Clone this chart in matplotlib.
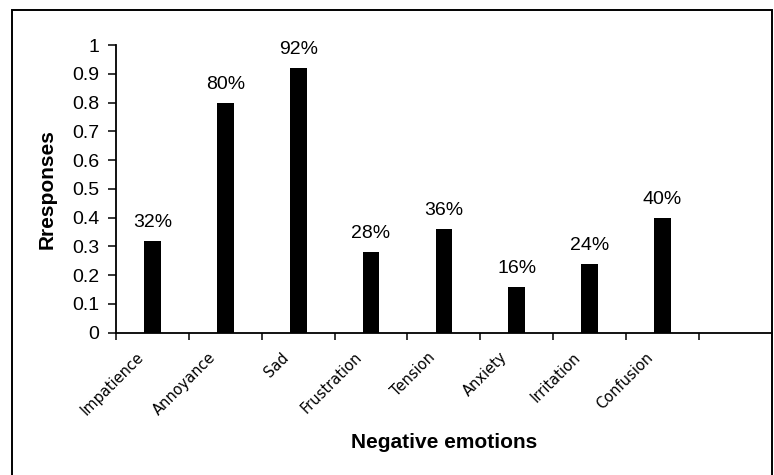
import numpy as np
import matplotlib.pyplot as plt
from matplotlib.patches import Rectangle

# Data
emotions = ['Impatience', 'Annoyance', 'Sad', 'Frustration', 'Tension',
            'Anxiety', 'Irritation', 'Confusion', '']
responses = [0.32, 0.80, 0.92, 0.28, 0.36, 0.16, 0.24, 0.40]
pct_labels = ['32%', '80%', '92%', '28%', '36%', '16%', '24%', '40%']
y_ticks = [0, 0.1, 0.2, 0.3, 0.4, 0.5, 0.6, 0.7, 0.8, 0.9, 1]
y_tick_labels = ['0', '0.1', '0.2', '0.3', '0.4', '0.5', '0.6', '0.7', '0.8', '0.9', '1']

plt.rcParams['font.family'] = ['Liberation Sans', 'DejaVu Sans']

fig = plt.figure(figsize=(7.74, 4.75), dpi=100)
ax = fig.add_axes([0.15, 0.2996, 0.847, 0.6054])

# outer frame around the whole chart
fig.patches.append(Rectangle((0.0155, -0.02), 0.982, 0.999, transform=fig.transFigure,
                             fill=False, edgecolor='black', linewidth=1.4))

x = np.arange(len(responses))
ax.bar(x, responses, width=0.23, color='black')
for xi, v, lab in zip(x, responses, pct_labels):
    ax.annotate(lab, (xi, v), xytext=(0, 7), textcoords='offset points',
                ha='center', va='bottom', fontsize=14)

ax.set_xlim(-0.5, len(emotions) - 0.5)
ax.set_ylim(0, 1)

# tick marks on slot boundaries, labels a bit left of slot centres
ax.set_xticks(np.arange(len(emotions) + 1) - 0.5)
ax.set_xticklabels([])
ax.set_xticks(np.arange(len(emotions)) - 0.16, minor=True)
ax.set_xticklabels(emotions, minor=True, rotation=45, ha='right', va='center',
                   rotation_mode='anchor', fontsize=10.5, family='DejaVu Sans')
ax.tick_params(axis='x', which='major', length=5, width=1.1, direction='out')
ax.tick_params(axis='x', which='minor', length=0, pad=16)

ax.set_yticks(y_ticks)
ax.set_yticklabels(y_tick_labels, fontsize=14)
ax.tick_params(axis='y', length=6, width=1.1, pad=6)

for s in ['top', 'right']:
    ax.spines[s].set_visible(False)
for s in ['left', 'bottom']:
    ax.spines[s].set_linewidth(1.3)

ax.set_xlabel('Negative emotions', fontsize=15, fontweight='bold')
ax.xaxis.set_label_coords(0.5, -0.383)
ax.xaxis.label.set_va('center')
ax.set_ylabel('Rresponses', fontsize=15, fontweight='bold')
ax.yaxis.set_label_coords(-0.105, 0.5)
ax.yaxis.label.set_va('center')

fig.savefig('out.png', dpi=100)
